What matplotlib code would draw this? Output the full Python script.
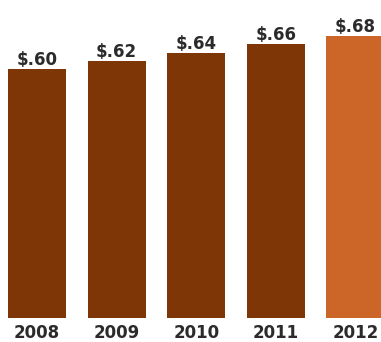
import matplotlib
matplotlib.use("Agg")
from matplotlib import pyplot as plt

years = ["2008", "2009", "2010", "2011", "2012"]
dividends = [0.60, 0.62, 0.64, 0.66, 0.68]
value_labels = ["$.60", "$.62", "$.64", "$.66", "$.68"]

dark = "#7e3607"
light = "#cc6628"
colors = [dark, dark, dark, dark, light]
text_color = "#2b2b2b"

fig = plt.figure(figsize=(3.81, 3.42), dpi=100)
ax = fig.add_axes([0, 0, 1, 1])

x = list(range(len(years)))
ax.bar(x, dividends, width=0.73, color=colors)

ax.set_xlim(-0.465, 4.322)
ax.set_ylim(-0.0579, 0.767)
ax.axis("off")

# dividend per share above each bar
for xi, v, lab in zip(x, dividends, value_labels):
    ax.annotate(lab, (xi, v), xytext=(0, 4), textcoords="offset pixels",
                ha="center", va="baseline", fontsize=12, fontweight="heavy",
                color=text_color)

# year under each bar
for xi, yr in zip(x, years):
    ax.annotate(yr, (xi, 0), xytext=(0, -20), textcoords="offset pixels",
                ha="center", va="baseline", fontsize=12, fontweight="heavy",
                color=text_color)

plt.savefig("out.png", dpi=100)
